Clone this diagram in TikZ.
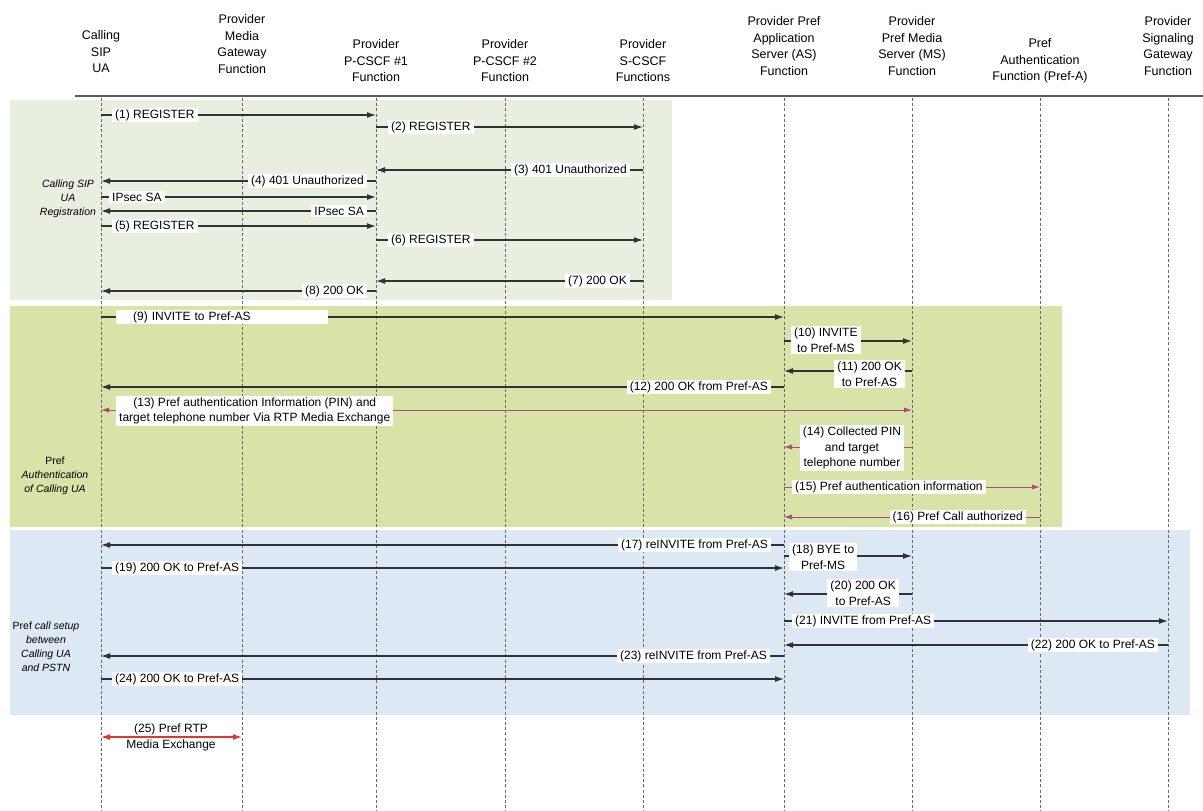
\documentclass[tikz,border=0pt]{standalone}
\usepackage{fontspec}
\setmainfont{Liberation Sans}
\usetikzlibrary{arrows.meta}

\definecolor{regbg}{HTML}{E8EFDF}
\definecolor{authbg}{HTML}{D7E3A7}
\definecolor{setupbg}{HTML}{DCE8F4}
\definecolor{msgcol}{HTML}{2E3436}
\definecolor{pinkcol}{HTML}{B2467E}
\definecolor{rtpcol}{HTML}{E0362E}
\definecolor{lifecol}{HTML}{6A6A6A}
\definecolor{rulecol}{HTML}{5A5A5A}

\tikzset{
  hdr/.style={align=center, inner sep=0pt, font=\fontsize{12.5}{16.5}\selectfont},
  headrule/.style={draw=rulecol, line width=1.3pt},
  lifeline/.style={draw=lifecol, line width=0.8pt, dash pattern=on 3pt off 2.2pt},
  msg/.style={draw=msgcol, line width=1.2pt, -{Latex[length=9pt,width=6pt]}},
  pinkmsg/.style={draw=pinkcol, line width=0.8pt, -{Latex[length=8pt,width=5pt]}},
  pinkboth/.style={draw=pinkcol, line width=0.8pt, {Latex[length=8pt,width=5pt]}-{Latex[length=8pt,width=5pt]}},
  rtpboth/.style={draw=rtpcol, line width=1.2pt, {Latex[length=9pt,width=6pt]}-{Latex[length=9pt,width=6pt]}},
  lbl/.style={fill=white, inner xsep=3pt, inner ysep=1.5pt, align=center,
              font=\fontsize{12}{15.5}\selectfont},
  phase/.style={align=center, inner sep=0pt, font=\fontsize{10.5}{14}\selectfont\itshape},
}

% message: [style]{label name}{from}{to}{y}{label anchor}{label position}{text}
\newcommand\sqmsg[8][msg]{%
  \draw[#1] (#3 |- 0,#5) -- (#4 |- 0,#5);
  \node[lbl, anchor=#6] (#2) at (#7) {#8};}

\begin{document}
\begin{tikzpicture}[x=1pt, y=-1pt]
\useasboundingbox (0,0) rectangle (1203,811);

% phase backgrounds
\fill[regbg]   (10,100) rectangle (672,300);
\fill[authbg]  (10,306) rectangle (1062,527);
\fill[setupbg] (10,530) rectangle (1190,715);

% participants
\node[hdr] (ua)  at (101,52)  {Calling\\SIP\\UA};
\node[hdr] (mgw) at (242,44)  {Provider\\Media\\Gateway\\Function};
\node[hdr] (pc1) at (376,61)  {Provider\\P-CSCF \#1\\Function};
\node[hdr] (pc2) at (505,61)  {Provider\\P-CSCF \#2\\Function};
\node[hdr] (sc)  at (643,61)  {Provider\\S-CSCF\\Functions};
\node[hdr] (as)  at (784,46)  {Provider Pref\\Application\\Server (AS)\\Function};
\node[hdr] (ms)  at (912,46)  {Provider\\Pref Media\\Server (MS)\\Function};
\node[hdr] (pa)  at (1040,61) {Pref\\Authentication\\Function (Pref-A)};
\node[hdr] (sgw) at (1168,46) {Provider\\Signaling\\Gateway\\Function};

\coordinate (ruleL) at (75,96);
\coordinate (ruleR) at (1203,96);
\draw[headrule] (ruleL) -- (ruleR);

% lifelines
\foreach \p in {ua,mgw,pc1,pc2,sc,as,ms,pa,sgw}
  \draw[lifeline] (\p |- 0,98) -- (\p |- 0,811);

% phase captions
\node[phase] (phreg)   at (68,199)  {Calling SIP\\UA\\Registration};
\node[phase] (phauth)  at (55,476)  {\upshape Pref\\Authentication\\of Calling UA};
\node[phase] (phsetup) at (46,647)  {\upshape Pref \itshape call setup\\between\\Calling UA\\and PSTN};

% registration
\sqmsg{m1}{ua}{pc1}{115}{west}{112,115}{(1) REGISTER}
\sqmsg{m2}{pc1}{sc}{127}{west}{388,127}{(2) REGISTER}
\sqmsg{m3}{sc}{pc1}{170}{east}{630,170}{(3) 401 Unauthorized}
\sqmsg{m4}{pc1}{ua}{181}{east}{367,181}{(4) 401 Unauthorized}
\sqmsg{sa1}{ua}{pc1}{197}{west}{109,197}{IPsec SA}
\sqmsg{sa2}{pc1}{ua}{211}{east}{367,211}{IPsec SA}
\sqmsg{m5}{ua}{pc1}{226}{west}{112,226}{(5) REGISTER}
\sqmsg{m6}{pc1}{sc}{240}{west}{388,240}{(6) REGISTER}
\sqmsg{m7}{sc}{pc1}{281}{east}{630,281}{(7) 200 OK}
\sqmsg{m8}{pc1}{ua}{291}{east}{367,291}{(8) 200 OK}

% Pref authentication
\draw[msg] (ua |- 0,317) -- (as |- 0,317);
\node[lbl, anchor=west, text width=178pt, inner xsep=17pt, align=left] (m9) at (116,317) {(9) INVITE to Pref-AS};
\sqmsg{m10}{as}{ms}{341}{west}{791,340}{(10) INVITE\\to Pref-MS}
\sqmsg{m11}{ms}{as}{371}{east}{905,374}{(11) 200 OK\\to Pref-AS}
\sqmsg{m12}{as}{ua}{387}{east}{771,387}{(12) 200 OK from Pref-AS}
\sqmsg[pinkboth]{m13}{ua}{ms}{410}{west}{116,411}{(13) Pref authentication Information (PIN) and\\target telephone number Via RTP Media Exchange}
\sqmsg[pinkmsg]{m14}{ms}{as}{447}{center}{852,448}{(14) Collected PIN\\and target\\telephone number}
\sqmsg[pinkmsg]{m15}{as}{pa}{487}{west}{792,487}{(15) Pref authentication information}
\sqmsg[pinkmsg]{m16}{pa}{as}{517}{east}{1026,517}{(16) Pref Call authorized}

% Pref call setup
\sqmsg{m17}{as}{ua}{545}{east}{771,545}{(17) reINVITE from Pref-AS}
\sqmsg{m18}{as}{ms}{556}{west}{789,557}{(18) BYE to\\Pref-MS}
\sqmsg{m19}{ua}{as}{568}{west}{112,568}{(19) 200 OK to Pref-AS}
\sqmsg{m20}{ms}{as}{594}{east}{899,593}{(20) 200 OK\\to Pref-AS}
\sqmsg{m21}{as}{sgw}{621}{west}{792,621}{(21) INVITE from Pref-AS}
\sqmsg{m22}{sgw}{as}{645}{east}{1158,645}{(22) 200 OK to Pref-AS}
\sqmsg{m23}{as}{ua}{656}{east}{770,656}{(23) reINVITE from Pref-AS}
\sqmsg{m24}{ua}{as}{679}{west}{112,679}{(24) 200 OK to Pref-AS}

% media exchange
\draw[rtpboth] (ua |- 0,737) -- (mgw |- 0,737);
\node[lbl, fill=none, inner ysep=0pt, font=\fontsize{12}{16}\selectfont] (m25) at (171,737) {(25) Pref RTP\\Media Exchange};

\end{tikzpicture}
\end{document}
